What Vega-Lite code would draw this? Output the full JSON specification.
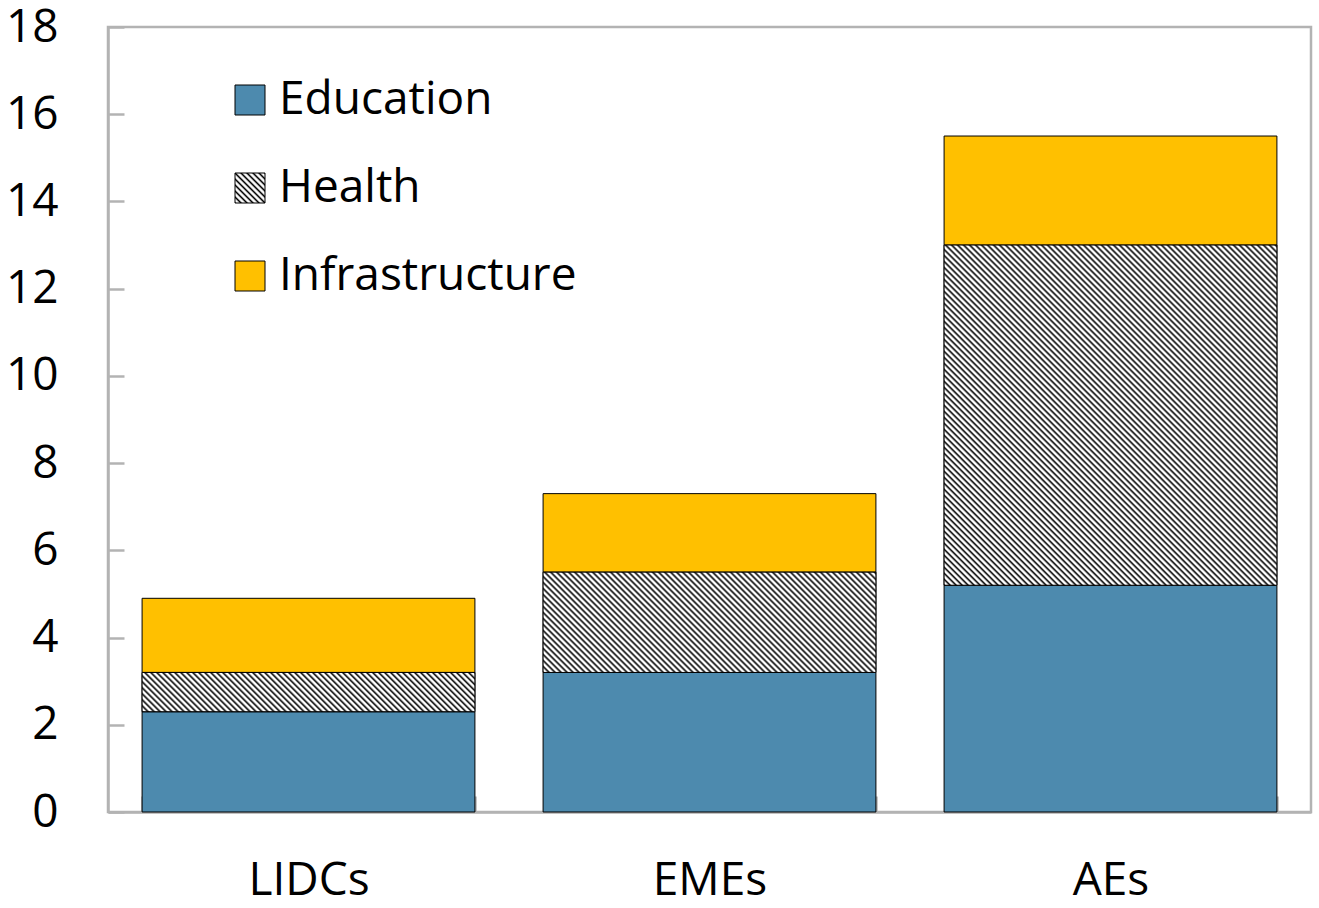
{
  "$schema": "https://vega.github.io/schema/vega-lite/v6.json",
  "width": 1203,
  "height": 785,
  "autosize": "none",
  "padding": {"left": 108, "top": 27, "right": 8, "bottom": 96},
  "background": "white",
  "params": [
    {"name": "hs", "value": [
      {"offset":0,"color":"#000"},{"offset":0.003,"color":"#fff"},{"offset":0.005,"color":"#fff"},{"offset":0.008,"color":"#000"},{"offset":0.011,"color":"#fff"},{"offset":0.013,"color":"#fff"},{"offset":0.016,"color":"#000"},{"offset":0.019,"color":"#fff"},{"offset":0.021,"color":"#fff"},{"offset":0.024,"color":"#000"},{"offset":0.027,"color":"#fff"},{"offset":0.029,"color":"#fff"},{"offset":0.032,"color":"#000"},{"offset":0.035,"color":"#fff"},{"offset":0.037,"color":"#fff"},
      {"offset":0.04,"color":"#000"},{"offset":0.043,"color":"#fff"},{"offset":0.045,"color":"#fff"},{"offset":0.048,"color":"#000"},{"offset":0.051,"color":"#fff"},{"offset":0.053,"color":"#fff"},{"offset":0.056,"color":"#000"},{"offset":0.059,"color":"#fff"},{"offset":0.061,"color":"#fff"},{"offset":0.064,"color":"#000"},{"offset":0.067,"color":"#fff"},{"offset":0.069,"color":"#fff"},{"offset":0.072,"color":"#000"},{"offset":0.075,"color":"#fff"},{"offset":0.077,"color":"#fff"},
      {"offset":0.08,"color":"#000"},{"offset":0.083,"color":"#fff"},{"offset":0.085,"color":"#fff"},{"offset":0.088,"color":"#000"},{"offset":0.091,"color":"#fff"},{"offset":0.093,"color":"#fff"},{"offset":0.096,"color":"#000"},{"offset":0.099,"color":"#fff"},{"offset":0.101,"color":"#fff"},{"offset":0.104,"color":"#000"},{"offset":0.107,"color":"#fff"},{"offset":0.109,"color":"#fff"},{"offset":0.112,"color":"#000"},{"offset":0.115,"color":"#fff"},{"offset":0.117,"color":"#fff"},
      {"offset":0.12,"color":"#000"},{"offset":0.123,"color":"#fff"},{"offset":0.125,"color":"#fff"},{"offset":0.128,"color":"#000"},{"offset":0.131,"color":"#fff"},{"offset":0.133,"color":"#fff"},{"offset":0.136,"color":"#000"},{"offset":0.139,"color":"#fff"},{"offset":0.141,"color":"#fff"},{"offset":0.144,"color":"#000"},{"offset":0.147,"color":"#fff"},{"offset":0.149,"color":"#fff"},{"offset":0.152,"color":"#000"},{"offset":0.155,"color":"#fff"},{"offset":0.157,"color":"#fff"},
      {"offset":0.16,"color":"#000"},{"offset":0.163,"color":"#fff"},{"offset":0.165,"color":"#fff"},{"offset":0.168,"color":"#000"},{"offset":0.171,"color":"#fff"},{"offset":0.173,"color":"#fff"},{"offset":0.176,"color":"#000"},{"offset":0.179,"color":"#fff"},{"offset":0.181,"color":"#fff"},{"offset":0.184,"color":"#000"},{"offset":0.187,"color":"#fff"},{"offset":0.189,"color":"#fff"},{"offset":0.192,"color":"#000"},{"offset":0.195,"color":"#fff"},{"offset":0.197,"color":"#fff"},
      {"offset":0.2,"color":"#000"},{"offset":0.203,"color":"#fff"},{"offset":0.205,"color":"#fff"},{"offset":0.208,"color":"#000"},{"offset":0.211,"color":"#fff"},{"offset":0.213,"color":"#fff"},{"offset":0.216,"color":"#000"},{"offset":0.219,"color":"#fff"},{"offset":0.221,"color":"#fff"},{"offset":0.224,"color":"#000"},{"offset":0.227,"color":"#fff"},{"offset":0.229,"color":"#fff"},{"offset":0.232,"color":"#000"},{"offset":0.235,"color":"#fff"},{"offset":0.237,"color":"#fff"},
      {"offset":0.24,"color":"#000"},{"offset":0.243,"color":"#fff"},{"offset":0.245,"color":"#fff"},{"offset":0.248,"color":"#000"},{"offset":0.251,"color":"#fff"},{"offset":0.253,"color":"#fff"},{"offset":0.256,"color":"#000"},{"offset":0.259,"color":"#fff"},{"offset":0.261,"color":"#fff"},{"offset":0.264,"color":"#000"},{"offset":0.267,"color":"#fff"},{"offset":0.269,"color":"#fff"},{"offset":0.272,"color":"#000"},{"offset":0.275,"color":"#fff"},{"offset":0.277,"color":"#fff"},
      {"offset":0.28,"color":"#000"},{"offset":0.283,"color":"#fff"},{"offset":0.285,"color":"#fff"},{"offset":0.288,"color":"#000"},{"offset":0.291,"color":"#fff"},{"offset":0.293,"color":"#fff"},{"offset":0.296,"color":"#000"},{"offset":0.299,"color":"#fff"},{"offset":0.301,"color":"#fff"},{"offset":0.304,"color":"#000"},{"offset":0.307,"color":"#fff"},{"offset":0.309,"color":"#fff"},{"offset":0.312,"color":"#000"},{"offset":0.315,"color":"#fff"},{"offset":0.317,"color":"#fff"},
      {"offset":0.32,"color":"#000"},{"offset":0.323,"color":"#fff"},{"offset":0.325,"color":"#fff"},{"offset":0.328,"color":"#000"},{"offset":0.331,"color":"#fff"},{"offset":0.333,"color":"#fff"},{"offset":0.336,"color":"#000"},{"offset":0.339,"color":"#fff"},{"offset":0.341,"color":"#fff"},{"offset":0.344,"color":"#000"},{"offset":0.347,"color":"#fff"},{"offset":0.349,"color":"#fff"},{"offset":0.352,"color":"#000"},{"offset":0.355,"color":"#fff"},{"offset":0.357,"color":"#fff"},
      {"offset":0.36,"color":"#000"},{"offset":0.363,"color":"#fff"},{"offset":0.365,"color":"#fff"},{"offset":0.368,"color":"#000"},{"offset":0.371,"color":"#fff"},{"offset":0.373,"color":"#fff"},{"offset":0.376,"color":"#000"},{"offset":0.379,"color":"#fff"},{"offset":0.381,"color":"#fff"},{"offset":0.384,"color":"#000"},{"offset":0.387,"color":"#fff"},{"offset":0.389,"color":"#fff"},{"offset":0.392,"color":"#000"},{"offset":0.395,"color":"#fff"},{"offset":0.397,"color":"#fff"},
      {"offset":0.4,"color":"#000"},{"offset":0.403,"color":"#fff"},{"offset":0.405,"color":"#fff"},{"offset":0.408,"color":"#000"},{"offset":0.411,"color":"#fff"},{"offset":0.413,"color":"#fff"},{"offset":0.416,"color":"#000"},{"offset":0.419,"color":"#fff"},{"offset":0.421,"color":"#fff"},{"offset":0.424,"color":"#000"},{"offset":0.427,"color":"#fff"},{"offset":0.429,"color":"#fff"},{"offset":0.432,"color":"#000"},{"offset":0.435,"color":"#fff"},{"offset":0.437,"color":"#fff"},
      {"offset":0.44,"color":"#000"},{"offset":0.443,"color":"#fff"},{"offset":0.445,"color":"#fff"},{"offset":0.448,"color":"#000"},{"offset":0.451,"color":"#fff"},{"offset":0.453,"color":"#fff"},{"offset":0.456,"color":"#000"},{"offset":0.459,"color":"#fff"},{"offset":0.461,"color":"#fff"},{"offset":0.464,"color":"#000"},{"offset":0.467,"color":"#fff"},{"offset":0.469,"color":"#fff"},{"offset":0.472,"color":"#000"},{"offset":0.475,"color":"#fff"},{"offset":0.477,"color":"#fff"},
      {"offset":0.48,"color":"#000"},{"offset":0.483,"color":"#fff"},{"offset":0.485,"color":"#fff"},{"offset":0.488,"color":"#000"},{"offset":0.491,"color":"#fff"},{"offset":0.493,"color":"#fff"},{"offset":0.496,"color":"#000"},{"offset":0.499,"color":"#fff"},{"offset":0.501,"color":"#fff"},{"offset":0.504,"color":"#000"},{"offset":0.507,"color":"#fff"},{"offset":0.509,"color":"#fff"},{"offset":0.512,"color":"#000"},{"offset":0.515,"color":"#fff"},{"offset":0.517,"color":"#fff"},
      {"offset":0.52,"color":"#000"},{"offset":0.523,"color":"#fff"},{"offset":0.525,"color":"#fff"},{"offset":0.528,"color":"#000"},{"offset":0.531,"color":"#fff"},{"offset":0.533,"color":"#fff"},{"offset":0.536,"color":"#000"},{"offset":0.539,"color":"#fff"},{"offset":0.541,"color":"#fff"},{"offset":0.544,"color":"#000"},{"offset":0.547,"color":"#fff"},{"offset":0.549,"color":"#fff"},{"offset":0.552,"color":"#000"},{"offset":0.555,"color":"#fff"},{"offset":0.557,"color":"#fff"},
      {"offset":0.56,"color":"#000"},{"offset":0.563,"color":"#fff"},{"offset":0.565,"color":"#fff"},{"offset":0.568,"color":"#000"},{"offset":0.571,"color":"#fff"},{"offset":0.573,"color":"#fff"},{"offset":0.576,"color":"#000"},{"offset":0.579,"color":"#fff"},{"offset":0.581,"color":"#fff"},{"offset":0.584,"color":"#000"},{"offset":0.587,"color":"#fff"},{"offset":0.589,"color":"#fff"},{"offset":0.592,"color":"#000"},{"offset":0.595,"color":"#fff"},{"offset":0.597,"color":"#fff"},
      {"offset":0.6,"color":"#000"},{"offset":0.603,"color":"#fff"},{"offset":0.605,"color":"#fff"},{"offset":0.608,"color":"#000"},{"offset":0.611,"color":"#fff"},{"offset":0.613,"color":"#fff"},{"offset":0.616,"color":"#000"},{"offset":0.619,"color":"#fff"},{"offset":0.621,"color":"#fff"},{"offset":0.624,"color":"#000"},{"offset":0.627,"color":"#fff"},{"offset":0.629,"color":"#fff"},{"offset":0.632,"color":"#000"},{"offset":0.635,"color":"#fff"},{"offset":0.637,"color":"#fff"},
      {"offset":0.64,"color":"#000"},{"offset":0.643,"color":"#fff"},{"offset":0.645,"color":"#fff"},{"offset":0.648,"color":"#000"},{"offset":0.651,"color":"#fff"},{"offset":0.653,"color":"#fff"},{"offset":0.656,"color":"#000"},{"offset":0.659,"color":"#fff"},{"offset":0.661,"color":"#fff"},{"offset":0.664,"color":"#000"},{"offset":0.667,"color":"#fff"},{"offset":0.669,"color":"#fff"},{"offset":0.672,"color":"#000"},{"offset":0.675,"color":"#fff"},{"offset":0.677,"color":"#fff"},
      {"offset":0.68,"color":"#000"},{"offset":0.683,"color":"#fff"},{"offset":0.685,"color":"#fff"},{"offset":0.688,"color":"#000"},{"offset":0.691,"color":"#fff"},{"offset":0.693,"color":"#fff"},{"offset":0.696,"color":"#000"},{"offset":0.699,"color":"#fff"},{"offset":0.701,"color":"#fff"},{"offset":0.704,"color":"#000"},{"offset":0.707,"color":"#fff"},{"offset":0.709,"color":"#fff"},{"offset":0.712,"color":"#000"},{"offset":0.715,"color":"#fff"},{"offset":0.717,"color":"#fff"},
      {"offset":0.72,"color":"#000"},{"offset":0.723,"color":"#fff"},{"offset":0.725,"color":"#fff"},{"offset":0.728,"color":"#000"},{"offset":0.731,"color":"#fff"},{"offset":0.733,"color":"#fff"},{"offset":0.736,"color":"#000"},{"offset":0.739,"color":"#fff"},{"offset":0.741,"color":"#fff"},{"offset":0.744,"color":"#000"},{"offset":0.747,"color":"#fff"},{"offset":0.749,"color":"#fff"},{"offset":0.752,"color":"#000"},{"offset":0.755,"color":"#fff"},{"offset":0.757,"color":"#fff"},
      {"offset":0.76,"color":"#000"},{"offset":0.763,"color":"#fff"},{"offset":0.765,"color":"#fff"},{"offset":0.768,"color":"#000"},{"offset":0.771,"color":"#fff"},{"offset":0.773,"color":"#fff"},{"offset":0.776,"color":"#000"},{"offset":0.779,"color":"#fff"},{"offset":0.781,"color":"#fff"},{"offset":0.784,"color":"#000"},{"offset":0.787,"color":"#fff"},{"offset":0.789,"color":"#fff"},{"offset":0.792,"color":"#000"},{"offset":0.795,"color":"#fff"},{"offset":0.797,"color":"#fff"},
      {"offset":0.8,"color":"#000"},{"offset":0.803,"color":"#fff"},{"offset":0.805,"color":"#fff"},{"offset":0.808,"color":"#000"},{"offset":0.811,"color":"#fff"},{"offset":0.813,"color":"#fff"},{"offset":0.816,"color":"#000"},{"offset":0.819,"color":"#fff"},{"offset":0.821,"color":"#fff"},{"offset":0.824,"color":"#000"},{"offset":0.827,"color":"#fff"},{"offset":0.829,"color":"#fff"},{"offset":0.832,"color":"#000"},{"offset":0.835,"color":"#fff"},{"offset":0.837,"color":"#fff"},
      {"offset":0.84,"color":"#000"},{"offset":0.843,"color":"#fff"},{"offset":0.845,"color":"#fff"},{"offset":0.848,"color":"#000"},{"offset":0.851,"color":"#fff"},{"offset":0.853,"color":"#fff"},{"offset":0.856,"color":"#000"},{"offset":0.859,"color":"#fff"},{"offset":0.861,"color":"#fff"},{"offset":0.864,"color":"#000"},{"offset":0.867,"color":"#fff"},{"offset":0.869,"color":"#fff"},{"offset":0.872,"color":"#000"},{"offset":0.875,"color":"#fff"},{"offset":0.877,"color":"#fff"},
      {"offset":0.88,"color":"#000"},{"offset":0.883,"color":"#fff"},{"offset":0.885,"color":"#fff"},{"offset":0.888,"color":"#000"},{"offset":0.891,"color":"#fff"},{"offset":0.893,"color":"#fff"},{"offset":0.896,"color":"#000"},{"offset":0.899,"color":"#fff"},{"offset":0.901,"color":"#fff"},{"offset":0.904,"color":"#000"},{"offset":0.907,"color":"#fff"},{"offset":0.909,"color":"#fff"},{"offset":0.912,"color":"#000"},{"offset":0.915,"color":"#fff"},{"offset":0.917,"color":"#fff"},
      {"offset":0.92,"color":"#000"},{"offset":0.923,"color":"#fff"},{"offset":0.925,"color":"#fff"},{"offset":0.928,"color":"#000"},{"offset":0.931,"color":"#fff"},{"offset":0.933,"color":"#fff"},{"offset":0.936,"color":"#000"},{"offset":0.939,"color":"#fff"},{"offset":0.941,"color":"#fff"},{"offset":0.944,"color":"#000"},{"offset":0.947,"color":"#fff"},{"offset":0.949,"color":"#fff"},{"offset":0.952,"color":"#000"},{"offset":0.955,"color":"#fff"},{"offset":0.957,"color":"#fff"},
      {"offset":0.96,"color":"#000"},{"offset":0.963,"color":"#fff"},{"offset":0.965,"color":"#fff"},{"offset":0.968,"color":"#000"},{"offset":0.971,"color":"#fff"},{"offset":0.973,"color":"#fff"},{"offset":0.976,"color":"#000"},{"offset":0.979,"color":"#fff"},{"offset":0.981,"color":"#fff"},{"offset":0.984,"color":"#000"},{"offset":0.987,"color":"#fff"},{"offset":0.989,"color":"#fff"},{"offset":0.992,"color":"#000"},{"offset":0.995,"color":"#fff"},{"offset":0.997,"color":"#fff"},
      {"offset":1,"color":"#000"}
    ]}
  ],
  "data": {
    "values": [
      {"region": "LIDCs", "category": "Education", "value": 2.3},
      {"region": "LIDCs", "category": "Health", "value": 0.9},
      {"region": "LIDCs", "category": "Infrastructure", "value": 1.7},
      {"region": "EMEs", "category": "Education", "value": 3.2},
      {"region": "EMEs", "category": "Health", "value": 2.3},
      {"region": "EMEs", "category": "Infrastructure", "value": 1.8},
      {"region": "AEs", "category": "Education", "value": 5.2},
      {"region": "AEs", "category": "Health", "value": 7.8},
      {"region": "AEs", "category": "Infrastructure", "value": 2.5}
    ]
  },
  "transform": [
    {"stack": "value", "groupby": ["region"], "sort": [{"field": "category", "order": "ascending"}], "as": ["lo", "hi"]}
  ],
  "encoding": {
    "x": {
      "field": "region", "type": "nominal",
      "scale": {"type": "band", "domain": ["LIDCs", "EMEs", "AEs"], "paddingInner": 0.17, "paddingOuter": 0.085},
      "axis": {"title": null, "labelAngle": 0, "tickBand": "extent", "tickSize": -16, "labelPadding": 62}
    },
    "y": {
      "field": "lo", "type": "quantitative",
      "scale": {"domain": [0, 18], "nice": false, "zero": true},
      "axis": {"title": null, "values": [0, 2, 4, 6, 8, 10, 12, 14, 16, 18], "grid": false, "tickSize": -16, "labelPadding": 66}
    },
    "y2": {"field": "hi"}
  },
  "layer": [
    {
      "mark": {"type": "bar", "stroke": "#000000", "strokeWidth": 1},
      "encoding": {
        "color": {
          "field": "category", "type": "nominal",
          "scale": {
            "domain": ["Education", "Health", "Infrastructure"],
            "range": ["#4d8aae", {"expr": "{gradient: 'linear', x1: 0, y1: 1, x2: 12.49, y2: -11.49, stops: hs}"}, "#ffc000"]
          },
          "legend": {
            "title": null,
            "orient": "none",
            "legendX": 119,
            "legendY": 50,
            "encode": {
              "symbols": {
                "update": {
                  "stroke": {"value": "#000000"},
                  "strokeWidth": {"value": 1}
                }
              }
            }
          }
        }
      }
    },
    {
      "transform": [{"filter": "datum.category === 'Health'"}],
      "mark": {
        "type": "bar", "stroke": "#000000", "strokeWidth": 1,
        "fill": {"expr": "datum.region === 'AEs' ? {gradient: 'linear', x1: 0, y1: 1, x2: 1.1013, y2: -0.1258, stops: hs} : datum.region === 'EMEs' ? {gradient: 'linear', x1: 0, y1: 1, x2: 2.0646, y2: 0.3778, stops: hs} : {gradient: 'linear', x1: 0, y1: 1, x2: 2.2212, y2: 0.738, stops: hs}"}
      }
    }
  ],
  "config": {
    "font": "Open Sans",
    "view": {"stroke": "#b3b3b3", "strokeWidth": 2.5},
    "axis": {
      "labelFont": "Open Sans",
      "labelFontSize": 46,
      "labelColor": "#000000",
      "domainColor": "#b3b3b3",
      "domainWidth": 2.5,
      "tickColor": "#b3b3b3",
      "tickWidth": 2.5
    },
    "legend": {
      "padding": 0,
      "symbolType": "square",
      "symbolSize": 900,
      "symbolStrokeColor": "#000000",
      "symbolStrokeWidth": 1,
      "symbolOpacity": 1,
      "labelFont": "Open Sans",
      "labelFontSize": 46,
      "labelColor": "#000000",
      "labelOffset": 6,
      "rowPadding": 42,
      "labelLimit": 600
    }
  }
}
